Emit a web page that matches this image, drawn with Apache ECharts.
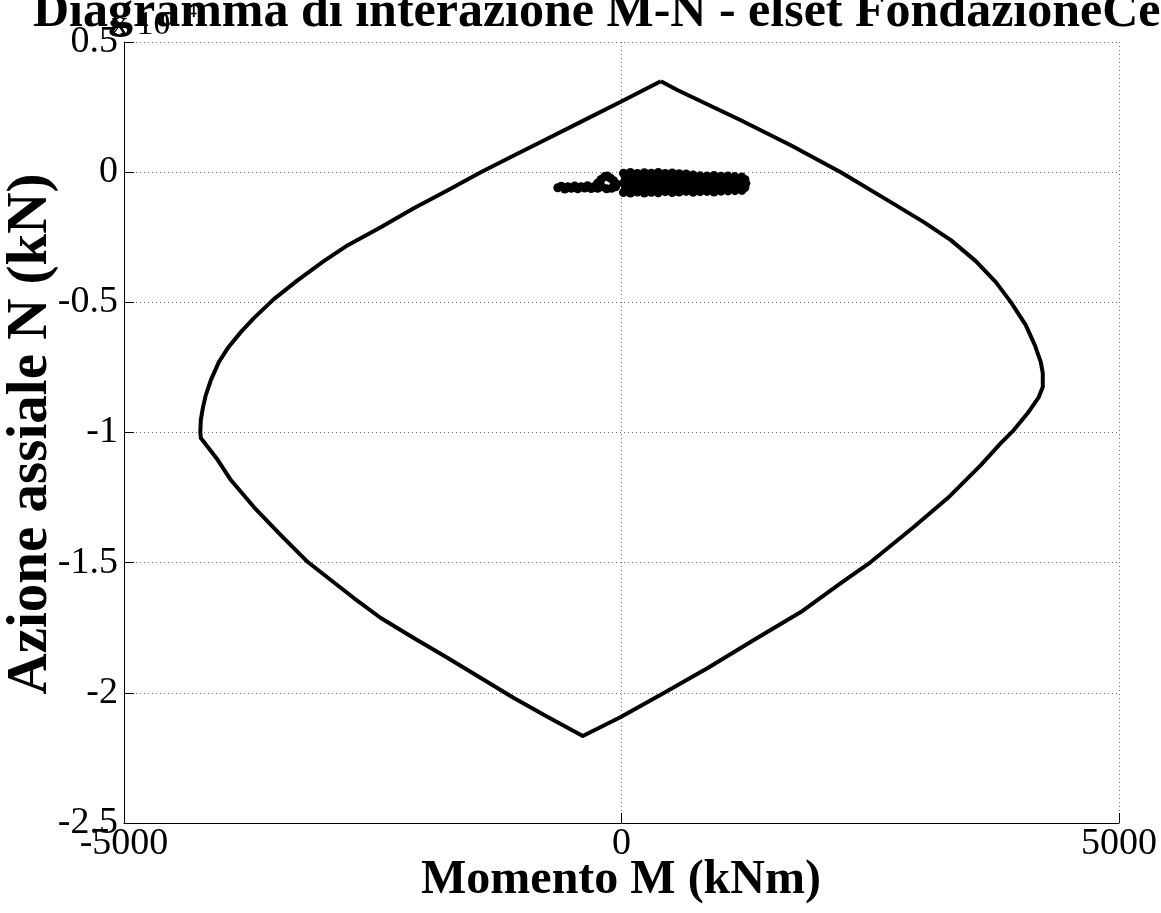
<!DOCTYPE html>
<html>
<head>
<meta charset="utf-8">
<title>Diagramma di interazione M-N</title>
<script src="https://cdn.jsdelivr.net/npm/echarts@6/dist/echarts.min.js"></script>
<style>
  html, body { margin: 0; padding: 0; background: #ffffff; }
  #chart { width: 1161px; height: 913px; }
</style>
</head>
<body>
<div id="chart"></div>
<script>
// Resistance domain boundary (M in kNm, N in kN), traced counter-clockwise from the top vertex
const boundaryM = [395, -7, -409, -741, -1082, -1414, -1746, -2088, -2419, -2751, -2992, -3253, -3494, -3695, -3826, -3957,
  -4047, -4127, -4178, -4208, -4228, -4233, -4228, -4158, -4057, -3926, -3695, -3424, -3153, -2922, -2690, -2419,
  -2088, -1746, -1414, -1082, -741, -389, -7, 425, 867, 1330, 1802, 2204, 2505, 2937, 3279, 3611,
  3812, 3943, 4083, 4194, 4234, 4234, 4214, 4154, 4063, 3913, 3762, 3561, 3310, 3038, 2706, 2204,
  1701, 1199, 566, 395];
const boundaryN = [3494, 2703, 1932, 1294, 637, 0, -691, -1382, -2112, -2803, -3418, -4147, -4877, -5606, -6144, -6758,
  -7296, -7987, -8563, -9062, -9523, -9984, -10214, -10560, -11059, -11827, -12864, -13939, -14976, -15667, -16358, -17126,
  -17894, -18662, -19430, -20198, -20928, -21658, -20928, -20006, -19046, -17971, -16896, -15782, -14976, -13632, -12518, -11251,
  -10406, -9907, -9254, -8640, -8256, -7718, -7296, -6643, -5875, -4992, -4224, -3418, -2611, -1920, -1152, 0,
  1037, 1997, 3149, 3494];

// Design load combinations (M, N)
const cloudM = [-640, -605, -570, -540, -505, -470, -440, -405, -370, -340, -305, -275,
  -240, -205, -170, -140, -110, -80, -50, -200, -150, -100, -60, -240,
  20, 90, 160, 230, 300, 370, 440, 510, 580, 650, 720, 790, 860, 930, 1000, 1070, 1140, 1210,
  40, 110, 180, 250, 320, 390, 460, 530, 600, 670, 740, 810, 880, 950, 1020, 1090, 1160, 1240,
  20, 90, 160, 230, 300, 370, 440, 510, 580, 650, 720, 790, 860, 930, 1000, 1070, 1140, 1210, 1250,
  40, 110, 180, 250, 320, 390, 460, 530, 600, 670, 740, 810, 880, 950, 1020, 1090, 1160, 1240,
  20, 90, 160, 230, 300, 370, 440, 510, 580, 650, 720, 790, 860, 930, 1000, 1070, 1140, 1210];
const cloudN = [-600, -540, -650, -560, -620, -530, -640, -560, -610, -520, -630, -560,
  -420, -280, -170, -150, -230, -330, -450, -560, -640, -620, -560, -620,
  -40, -10, -50, -20, -40, -10, -50, -30, -60, -70, -110, -140, -150, -130, -160, -150, -170, -190,
  -230, -250, -210, -260, -240, -250, -270, -220, -250, -240, -260, -250, -230, -260, -240, -270, -250, -280,
  -420, -450, -400, -460, -430, -440, -410, -460, -430, -450, -420, -440, -460, -430, -450, -420, -440, -460, -430,
  -600, -630, -580, -640, -610, -620, -590, -640, -610, -630, -600, -620, -640, -610, -630, -600, -610, -590,
  -780, -800, -760, -800, -770, -790, -750, -780, -760, -740, -770, -750, -740, -760, -730, -720, -710, -700];

// Axis ticks
const xTicks = { min: -5000, max: 5000, step: 5000 };
const yTicks = { min: -25000, max: 5000, step: 5000 };
const yScale = 10000; // N labels are shown as multiples of 10^4

const titleText = 'Diagramma di interazione M-N - elset FondazioneCe';
const xName = 'Momento M (kNm)';
const yName = 'Azione assiale N (kN)';

const serif = '"Liberation Serif", "Times New Roman", serif';

const boundary = boundaryM.map((m, i) => [m, boundaryN[i]]);
const cloud = cloudM.map((m, i) => [m, cloudN[i]]);

const gridStyle = { color: '#6a6a6a', width: 1, type: [1, 3] };

const chart = echarts.init(document.getElementById('chart'), null, { renderer: 'canvas' });
chart.setOption({
  backgroundColor: '#ffffff',
  animation: false,
  grid: { left: 124, right: 42, top: 42, bottom: 90, containLabel: false },
  xAxis: {
    type: 'value',
    min: xTicks.min, max: xTicks.max, interval: xTicks.step,
    axisLine: { onZero: false, lineStyle: { color: '#000', width: 1 } },
    axisTick: { inside: true, length: 10, lineStyle: { color: '#000', width: 1 } },
    axisLabel: {
      fontFamily: serif, fontSize: 38, color: '#000', margin: 2,
      formatter: v => String(v)
    },
    splitLine: { show: true, lineStyle: gridStyle }
  },
  yAxis: {
    type: 'value',
    min: yTicks.min, max: yTicks.max, interval: yTicks.step,
    axisLine: { onZero: false, lineStyle: { color: '#000', width: 1 } },
    axisTick: { inside: true, length: 10, lineStyle: { color: '#000', width: 1 } },
    axisLabel: {
      fontFamily: serif, fontSize: 38, color: '#000', margin: 6,
      formatter: v => String(Math.round(v / yScale * 10) / 10)
    },
    splitLine: { show: true, lineStyle: gridStyle }
  },
  graphic: [
    {
      type: 'text', x: 111, y: 8, z: 1,
      style: { text: 'x 10', fontFamily: serif, fontSize: 34, fill: '#000' }
    },
    {
      type: 'text', x: 186, y: 0, z: 1,
      style: { text: '4', fontFamily: serif, fontSize: 22, fill: '#000' }
    },
    {
      type: 'text', x: 33, y: -12, z: 10,
      style: { text: titleText, fontFamily: serif, fontWeight: 'bold', fontSize: 50, fill: '#000' }
    },
    {
      type: 'text', x: 621, y: 881, z: 10,
      style: {
        text: xName, fontFamily: serif, fontWeight: 'bold', fontSize: 48, fill: '#000',
        align: 'center', verticalAlign: 'middle'
      }
    },
    {
      type: 'text', x: 31, y: 434, rotation: Math.PI / 2, z: 10,
      style: {
        text: yName, fontFamily: serif, fontWeight: 'bold', fontSize: 57, fill: '#000',
        align: 'center', verticalAlign: 'middle'
      }
    }
  ],
  series: [
    {
      type: 'scatter',
      data: cloud,
      symbol: 'circle',
      symbolSize: 9,
      itemStyle: { color: '#000', opacity: 1 },
      z: 3
    },
    {
      type: 'line',
      data: boundary,
      showSymbol: false,
      smooth: false,
      lineStyle: { color: '#000', width: 4, join: 'round' },
      z: 4
    }
  ]
});
</script>
</body>
</html>
